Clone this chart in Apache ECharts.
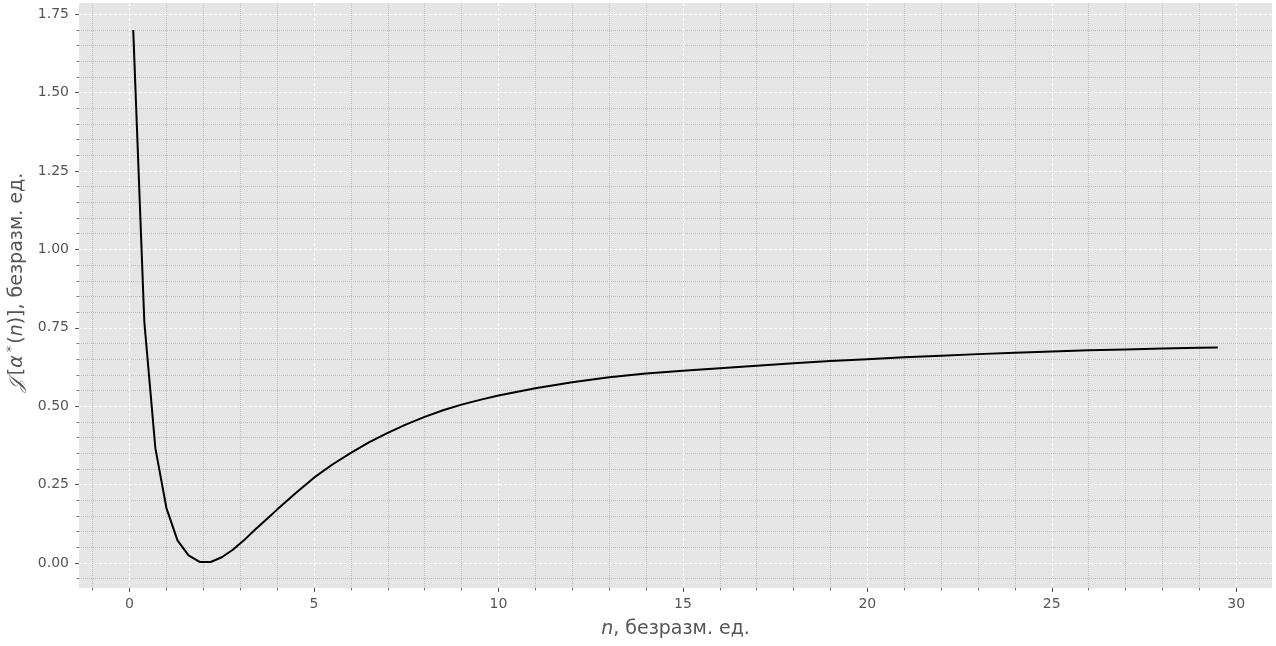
<!DOCTYPE html>
<html>
<head>
<meta charset="utf-8">
<script src="https://cdn.jsdelivr.net/npm/echarts@6/dist/echarts.min.js"></script>
<style>
html,body{margin:0;padding:0;background:#ffffff;}
#chart{width:1276px;height:646px;}
</style>
</head>
<body>
<div id="chart"></div>
<script>
// n values (x)
const nValues = [0.1, 0.4, 0.7, 1.0, 1.3, 1.6, 1.9, 2.2, 2.5, 2.8, 3.1, 3.4, 3.7, 4.0, 4.5, 5.0, 5.5, 6.0, 6.5, 7.0, 7.5, 8.0, 8.5, 9.0, 9.5, 10, 11, 12, 13, 14, 15, 16, 17, 18, 19, 20, 21, 22, 23, 24, 25, 26, 27, 28, 29, 29.5];
// J[alpha*(n)] values
const jValues = [1.700, 0.770, 0.366, 0.175, 0.072, 0.024, 0.003, 0.003, 0.018, 0.042, 0.072, 0.106, 0.138, 0.170, 0.222, 0.272, 0.314, 0.351, 0.385, 0.415, 0.442, 0.466, 0.487, 0.505, 0.520, 0.534, 0.557, 0.576, 0.592, 0.604, 0.613, 0.621, 0.629, 0.637, 0.644, 0.650, 0.656, 0.661, 0.666, 0.670, 0.674, 0.678, 0.681, 0.684, 0.686, 0.687];

// tick values
const xMajorTicks = [0, 5, 10, 15, 20, 25, 30];
const xMinorTicks = [-1, 1, 2, 3, 4, 6, 7, 8, 9, 11, 12, 13, 14, 16, 17, 18, 19, 21, 22, 23, 24, 26, 27, 28, 29];
const yMajorTicks = [0, 0.25, 0.5, 0.75, 1.0, 1.25, 1.5, 1.75];
const yMinorTicks = [-0.05, 0.05, 0.1, 0.15, 0.2, 0.3, 0.35, 0.4, 0.45, 0.55, 0.6, 0.65, 0.7, 0.8, 0.85, 0.9, 0.95, 1.05, 1.1, 1.15, 1.2, 1.3, 1.35, 1.4, 1.45, 1.55, 1.6, 1.65, 1.7];

const xName = '{i|n}{t|, безразм. ед.}';
const yName = '{j|𝒥}{t|[}{i|α}{sup|*}{t|(}{i|n}{t|)], безразм. ед.}';

const FONT = 'DejaVu Sans';
const labelColor = '#555555';

const chart = echarts.init(document.getElementById('chart'), null, {renderer: 'canvas'});

const seriesData = nValues.map((n, i) => [n, jValues[i]]);

const NAME_SIZE = 19;
const nameRich = {
  t: {fontFamily: FONT, fontSize: NAME_SIZE, color: labelColor},
  i: {fontFamily: FONT, fontSize: NAME_SIZE, fontStyle: 'italic', color: labelColor},
  j: {fontFamily: 'DejaVu Serif, DejaVu Sans, serif', fontSize: NAME_SIZE, fontStyle: 'italic', color: labelColor, padding: [0, 4, 0, 0]},
  sup: {fontFamily: FONT, fontSize: 13, color: labelColor, verticalAlign: 'top', padding: [0, 2, 12, 3]}
};

const xLimits = {min: -1.37, max: 30.97};
const yLimits = {min: -0.08, max: 1.786};

chart.setOption({
  animation: false,
  backgroundColor: '#ffffff',
  grid: {left: 79, right: 4, top: 3, bottom: 58, containLabel: false, outerBoundsMode: 'none',
    show: true, backgroundColor: '#E5E5E5', borderWidth: 0},
  xAxis: [
    {
      type: 'value', min: xLimits.min, max: xLimits.max, position: 'bottom',
      axisLine: {show: false, onZero: false},
      axisTick: {show: true, customValues: xMajorTicks, length: 4, lineStyle: {color: '#555555', width: 1}},
      axisLabel: {show: true, customValues: xMajorTicks, color: labelColor, fontSize: 14, fontFamily: FONT, margin: 9,
        formatter: v => String(v)},
      splitLine: {show: true, lineStyle: {color: '#ffffff', width: 1, type: [3, 2]}},
      name: xName, nameLocation: 'middle', nameGap: 32,
      nameTextStyle: {rich: nameRich}
    },
    {
      type: 'value', min: xLimits.min, max: xLimits.max, position: 'bottom', offset: 0,
      axisLine: {show: false, onZero: false},
      axisTick: {show: true, customValues: xMinorTicks, length: 2.5, lineStyle: {color: '#777777', width: 1}},
      axisLabel: {show: false},
      splitLine: {show: true, lineStyle: {color: '#bdbdbd', width: 1, type: [1, 1]}}
    }
  ],
  yAxis: [
    {
      type: 'value', min: yLimits.min, max: yLimits.max, position: 'left',
      axisLine: {show: false, onZero: false},
      axisTick: {show: true, customValues: yMajorTicks, length: 4, lineStyle: {color: '#555555', width: 1}},
      axisLabel: {show: true, customValues: yMajorTicks, color: labelColor, fontSize: 14, fontFamily: FONT, margin: 10,
        formatter: v => v.toFixed(2)},
      splitLine: {show: true, lineStyle: {color: '#ffffff', width: 1, type: [3, 2]}},
      name: yName, nameLocation: 'middle', nameGap: 44,
      nameTextStyle: {rich: nameRich, padding: [0, 0, 0, 26]}
    },
    {
      type: 'value', min: yLimits.min, max: yLimits.max, position: 'left', offset: 0,
      axisLine: {show: false, onZero: false},
      axisTick: {show: true, customValues: yMinorTicks, length: 2.5, lineStyle: {color: '#777777', width: 1}},
      axisLabel: {show: false},
      splitLine: {show: true, lineStyle: {color: '#bdbdbd', width: 1, type: [1, 1]}}
    }
  ],
  series: [
    {
      type: 'line', xAxisIndex: 0, yAxisIndex: 0,
      data: seriesData,
      showSymbol: false, symbol: 'none', smooth: false,
      lineStyle: {color: '#000000', width: 2},
      clip: false
    }
  ]
});
</script>
</body>
</html>
